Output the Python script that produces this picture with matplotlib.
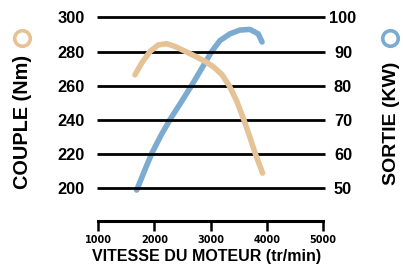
import matplotlib
matplotlib.use("Agg")
import matplotlib.pyplot as plt
from matplotlib.lines import Line2D

# Data
rpm_torque = [1653, 1772, 1920, 2068, 2217, 2365, 2543, 2721, 2898, 3050, 3200, 3330, 3463, 3590, 3700, 3800, 3925]
torque_nm = [266.3, 273.2, 280.0, 283.9, 284.6, 283.0, 280.2, 277.3, 274.3, 271.0, 266.5, 260.0, 251.0, 240.0, 229.5, 219.5, 208.6]

rpm_power = [1683, 1831, 1950, 2110, 2276, 2470, 2660, 2840, 3018, 3165, 3343, 3521, 3699, 3847, 3915]
power_kw = [49.3, 55.3, 60.0, 65.2, 70.0, 75.0, 80.0, 85.0, 90.0, 93.2, 95.2, 96.3, 96.5, 95.2, 92.8]

x_ticks = [1000, 2000, 3000, 4000, 5000]
left_ticks = [200, 220, 240, 260, 280, 300]
right_ticks = [50, 60, 70, 80, 90, 100]

c_torque = '#E6C297'
c_power = '#7CABD1'

W, H = 403, 268
fig = plt.figure(figsize=(W / 100, H / 100), dpi=100)
ax_l, ax_r = 98.3, 323.0
ax_b, ax_t = 220.5, 10.0
ax = fig.add_axes([ax_l / W, 1 - ax_b / H, (ax_r - ax_l) / W, (ax_b - ax_t) / H])
ax.set_xlim(1000, 5000)
ax.set_ylim(180.73, 304.4)
ax2 = ax.twinx()
ax2.set_ylim(40.36, 102.2)

# gridlines
for v in left_ticks:
    ax.hlines(v, -0.006, 1.008, transform=ax.get_yaxis_transform(), color='black',
              lw=2.0, clip_on=False, zorder=1)

ax2.plot(rpm_power, power_kw, color=c_power, lw=4.0, solid_capstyle='round',
         solid_joinstyle='round', zorder=3)
ax.plot(rpm_torque, torque_nm, color=c_torque, lw=4.0, solid_capstyle='round',
        solid_joinstyle='round', zorder=2)
ax.set_zorder(ax2.get_zorder() + 1)
ax.patch.set_visible(False)

for a in (ax, ax2):
    for s in ('left', 'right', 'top'):
        a.spines[s].set_visible(False)
ax2.spines['bottom'].set_visible(False)
ax.spines['bottom'].set_linewidth(2.2)
ax.spines['bottom'].set_capstyle('projecting')

ax.set_xticks(x_ticks)
ax.set_xticklabels([str(t) for t in x_ticks], fontfamily='DejaVu Sans',
                   fontweight='bold', fontsize=7)
ax.tick_params(axis='x', direction='out', length=7.2, width=1.8, pad=3.0)

ax.set_yticks(left_ticks)
ax.set_yticklabels([str(t) for t in left_ticks], fontfamily='Liberation Sans',
                   fontweight='bold', fontsize=11.8)
ax.tick_params(axis='y', length=0, pad=9.6)

ax2.set_yticks(right_ticks)
ax2.set_yticklabels([str(t) for t in right_ticks], fontfamily='Liberation Sans',
                    fontweight='bold', fontsize=11.8)
ax2.tick_params(axis='y', length=0, pad=14.4)
for lab in ax2.get_yticklabels():
    lab.set_horizontalalignment('center')

fig.text(207 / W, 1 - 257 / H, 'VITESSE DU MOTEUR (tr/min)', fontfamily='Liberation Sans',
         fontweight='bold', fontsize=11.5, ha='center', va='center')
fig.text(22.5 / W, 1 - 122 / H, 'COUPLE (Nm)', fontfamily='Liberation Sans',
         fontweight='bold', fontsize=14.3, ha='center', va='center', rotation=90)
fig.text(391 / W, 1 - 123.5 / H, 'SORTIE (KW)', fontfamily='Liberation Sans',
         fontweight='bold', fontsize=14.0, ha='center', va='center', rotation=90)

fig.add_artist(Line2D([21.5 / W], [1 - 38 / H], marker='o', markersize=11.2,
                      markerfacecolor='none', markeredgecolor=c_torque,
                      markeredgewidth=2.6, transform=fig.transFigure))
fig.add_artist(Line2D([390 / W], [1 - 38 / H], marker='o', markersize=11.2,
                      markerfacecolor='none', markeredgecolor=c_power,
                      markeredgewidth=2.6, transform=fig.transFigure))

fig.savefig('out.png', dpi=100)
